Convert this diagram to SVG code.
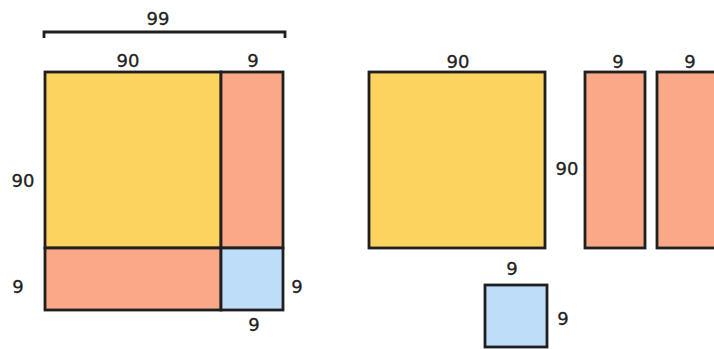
<svg xmlns="http://www.w3.org/2000/svg" width="714" height="349" viewBox="0 0 714 349">
<style>
.y{fill:#FDD360;stroke:#1f1f1f;stroke-width:2.8}
.s{fill:#FBA888;stroke:#1f1f1f;stroke-width:2.8}
.b{fill:#BEDDF8;stroke:#1f1f1f;stroke-width:2.8}
text{font-family:"DejaVu Sans",sans-serif;font-size:18px;fill:#222;stroke:#222;stroke-width:0.3;text-anchor:middle}
</style>
<rect width="714" height="349" fill="#fff"/>
<g id="bracket">
<path d="M44 38 V32 H285 V38" fill="none" stroke="#1f1f1f" stroke-width="2.8"/>
<text x="158" y="25">99</text>
</g>
<g id="big-square">
<rect class="y" x="45" y="72" width="176" height="176"/>
<rect class="s" x="221" y="72" width="62" height="176"/>
<rect class="s" x="45" y="248" width="176" height="62"/>
<rect class="b" x="221" y="248" width="62" height="62"/>
<text x="128" y="67">90</text>
<text x="253" y="67">9</text>
<text x="23" y="187">90</text>
<text x="18" y="293">9</text>
<text x="297" y="293">9</text>
<text x="254" y="331">9</text>
</g>
<g id="yellow-square">
<rect class="y" x="369" y="72" width="176" height="176"/>
<text x="458" y="68">90</text>
<text x="567" y="175">90</text>
</g>
<g id="strip1">
<rect class="s" x="585" y="72" width="60" height="176"/>
<text x="618" y="68">9</text>
</g>
<g id="strip2">
<rect class="s" x="657" y="72" width="70" height="176"/>
<text x="690" y="68">9</text>
</g>
<g id="blue-square">
<rect class="b" x="485" y="285" width="62" height="62"/>
<text x="512" y="275">9</text>
<text x="563" y="325">9</text>
</g>
</svg>
